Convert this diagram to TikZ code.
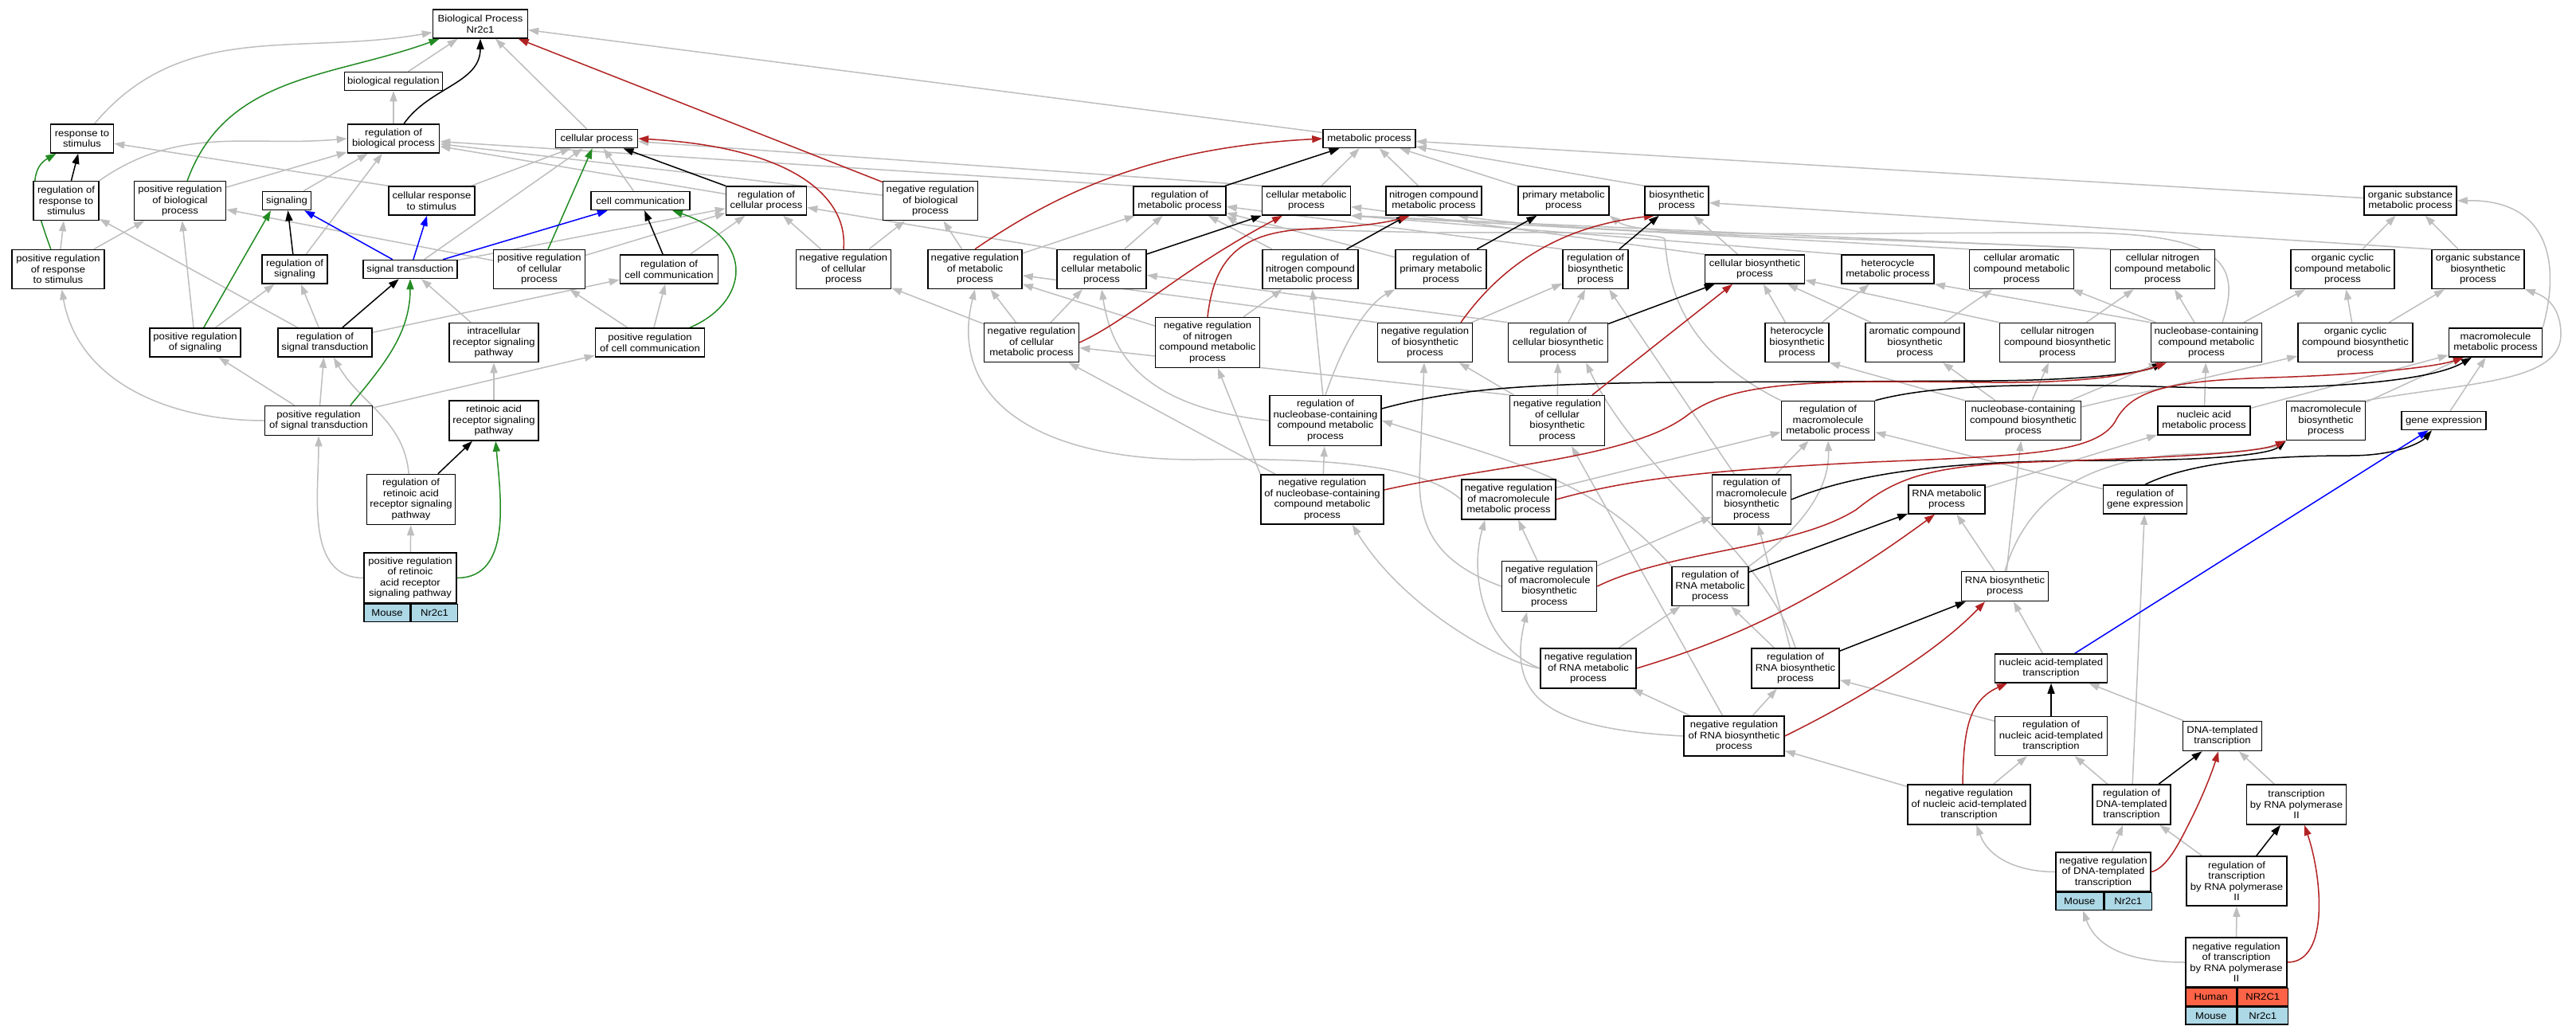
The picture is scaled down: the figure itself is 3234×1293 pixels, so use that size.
\documentclass[tikz,border=0pt]{standalone}
\usepackage{fontspec}
\setmainfont{Liberation Sans}[FakeStretch=1.09]
\usetikzlibrary{arrows.meta}
\definecolor{isagray}{HTML}{BEBEBE}
\definecolor{posgreen}{HTML}{228B22}
\definecolor{negred}{HTML}{B22222}
\definecolor{partblue}{HTML}{0000FF}
\definecolor{mouseblue}{HTML}{ADD8E6}
\definecolor{humanred}{HTML}{FF6347}
\newcommand\gofont{\fontsize{12}{13.5}\selectfont}
\pgfdeclarelayer{bglayer}
\pgfdeclarelayer{edgelayer}
\pgfsetlayers{bglayer,edgelayer,main}
\tikzset{
  gobox/.style={draw=black, line width=1.5pt, fill=white, align=center, inner sep=0pt, font=\gofont},
  spcell/.style={draw=black, line width=1.5pt, inner sep=0pt, font=\gofont, minimum height=22pt, anchor=north west},
  edgebase/.style={line width=1.5pt, -{Triangle[length=13pt,width=9pt]}},
  isaE/.style={edgebase, draw=isagray, fill=none, arrows={-{Triangle[length=13pt,width=9pt,fill=isagray]}}},
  regE/.style={edgebase, draw=black},
  posE/.style={edgebase, draw=posgreen},
  negE/.style={edgebase, draw=negred},
  partE/.style={edgebase, draw=partblue},
}
\newcommand\gonode[6]{\node[gobox,minimum width=#4pt,minimum height=#5pt] (#1) at (#2,-#3) {#6};}
\begin{document}
\begin{tikzpicture}[x=1pt,y=1pt]
\begin{pgfonlayer}{bglayer}
\fill[white] (0,0) rectangle (3234,-1293);
\end{pgfonlayer}
\useasboundingbox (0,0) rectangle (3234,-1293);
% row 1-3
\gonode{bp}{603}{30}{119}{36}{Biological Process\\Nr2c1}
\gonode{bioreg}{494}{102}{123}{23}{biological regulation}
\gonode{respstim}{103}{174}{79}{36}{response to\\stimulus}
\gonode{regbio}{494}{174}{115}{36}{regulation of\\biological process}
\gonode{cellproc}{749}{174}{103}{23}{cellular process}
\gonode{metab}{1719}{174}{116}{23}{metabolic process}
% row 4
\gonode{regresp}{83}{252}{82}{49}{regulation of\\response to\\stimulus}
\gonode{posregbio}{226}{252}{115}{49}{positive regulation\\of biological\\process}
\gonode{signaling}{360}{252}{61}{23}{signaling}
\gonode{cellresp}{542}{252}{108}{36}{cellular response\\to stimulus}
\gonode{cellcomm}{804}{252}{124}{23}{cell communication}
\gonode{regcellproc}{962}{252}{101}{36}{regulation of\\cellular process}
\gonode{negregbio}{1168}{252}{119}{49}{negative regulation\\of biological\\process}
\gonode{regmetab}{1481}{252}{116}{36}{regulation of\\metabolic process}
\gonode{cellmetab}{1640}{252}{111}{36}{cellular metabolic\\process}
\gonode{nitromet}{1800}{252}{120}{36}{nitrogen compound\\metabolic process}
\gonode{primmet}{1963}{252}{114}{36}{primary metabolic\\process}
\gonode{biosyn}{2105}{252}{80}{36}{biosynthetic\\process}
\gonode{orgsubmet}{3026}{252}{116}{36}{organic substance\\metabolic process}
% row 5
\gonode{posregresp}{73}{338}{116}{49}{positive regulation\\of response\\to stimulus}
\gonode{regsig}{370}{338}{82}{36}{regulation of\\signaling}
\gonode{sigtrans}{515}{338}{118}{23}{signal transduction}
\gonode{posregcell}{677}{338}{115}{49}{positive regulation\\of cellular\\process}
\gonode{regcellcomm}{840}{338}{123}{36}{regulation of\\cell communication}
\gonode{negregcell}{1059}{338}{119}{49}{negative regulation\\of cellular\\process}
\gonode{negregmetab}{1224}{338}{118}{49}{negative regulation\\of metabolic\\process}
\gonode{regcellmetab}{1383}{338}{112}{49}{regulation of\\cellular metabolic\\process}
\gonode{regnitro}{1645}{338}{120}{49}{regulation of\\nitrogen compound\\metabolic process}
\gonode{regprim}{1809}{338}{114}{49}{regulation of\\primary metabolic\\process}
\gonode{regbiosyn}{2003}{338}{82}{49}{regulation of\\biosynthetic\\process}
\gonode{cellbiosyn}{2203}{338}{125}{36}{cellular biosynthetic\\process}
\gonode{heteromet}{2370}{338}{116}{36}{heterocycle\\metabolic process}
\gonode{cellaromet}{2538}{338}{131}{49}{cellular aromatic\\compound metabolic\\process}
\gonode{cellnitromet}{2715}{338}{131}{49}{cellular nitrogen\\compound metabolic\\process}
\gonode{orgcycmet}{2941}{338}{130}{49}{organic cyclic\\compound metabolic\\process}
\gonode{orgsubbio}{3111}{338}{116}{49}{organic substance\\biosynthetic\\process}
% row 6
\gonode{posregsig}{245}{430}{114}{36}{positive regulation\\of signaling}
\gonode{regsigtrans}{408}{430}{118}{36}{regulation of\\signal transduction}
\gonode{intracell}{620}{430}{112}{49}{intracellular\\receptor signaling\\pathway}
\gonode{posregcellcomm}{816}{430}{137}{36}{positive regulation\\of cell communication}
\gonode{negregcellmetab}{1295}{430}{119}{49}{negative regulation\\of cellular\\metabolic process}
\gonode{negregnitro}{1516}{430}{131}{63}{negative regulation\\of nitrogen\\compound metabolic\\process}
\gonode{negregbiosyn}{1789}{430}{119}{49}{negative regulation\\of biosynthetic\\process}
\gonode{regcellbiosyn}{1956}{430}{125}{49}{regulation of\\cellular biosynthetic\\process}
\gonode{heterobio}{2256}{430}{80}{49}{heterocycle\\biosynthetic\\process}
\gonode{arobio}{2404}{430}{124}{49}{aromatic compound\\biosynthetic\\process}
\gonode{cellnitrobio}{2583}{430}{145}{49}{cellular nitrogen\\compound biosynthetic\\process}
\gonode{nucmet}{2770}{430}{139}{49}{nucleobase-containing\\compound metabolic\\process}
\gonode{orgcycbio}{2957}{430}{144}{49}{organic cyclic\\compound biosynthetic\\process}
\gonode{macromet}{3133}{430}{117}{36}{macromolecule\\metabolic process}
% row 7
\gonode{posregsigtrans}{400}{528}{135}{37}{positive regulation\\of signal transduction}
\gonode{rapath}{620}{528}{112}{50}{retinoic acid\\receptor signaling\\pathway}
\gonode{regnuc}{1664}{528}{140}{63}{regulation of\\nucleobase-containing\\compound metabolic\\process}
\gonode{negregcellbio}{1955}{528}{119}{63}{negative regulation\\of cellular\\biosynthetic\\process}
\gonode{regmacromet}{2295}{528}{117}{49}{regulation of\\macromolecule\\metabolic process}
\gonode{nucbio}{2540}{528}{145}{49}{nucleobase-containing\\compound biosynthetic\\process}
\gonode{nucacidmet}{2767}{528}{116}{36}{nucleic acid\\metabolic process}
\gonode{macrobio}{2920}{528}{99}{49}{macromolecule\\biosynthetic\\process}
\gonode{geneexp}{3068}{528}{106}{23}{gene expression}
% row 8
\gonode{regra}{516}{627}{111}{63}{regulation of\\retinoic acid\\receptor signaling\\pathway}
\gonode{negregnuc}{1660}{627}{154}{62}{negative regulation\\of nucleobase-containing\\compound metabolic\\process}
\gonode{negregmacromet}{1894}{627}{118}{50}{negative regulation\\of macromolecule\\metabolic process}
\gonode{regmacrobio}{2199}{627}{99}{62}{regulation of\\macromolecule\\biosynthetic\\process}
\gonode{rnamet}{2444}{627}{96}{36}{RNA metabolic\\process}
\gonode{reggeneexp}{2693}{627}{105}{36}{regulation of\\gene expression}
% row 9
\gonode{posregra}{515}{725.5}{116}{63}{positive regulation\\of retinoic\\acid receptor\\signaling pathway}
\node[spcell, fill=mouseblue, minimum width=58pt] (posregraM) at (posregra.south west) {Mouse};
\node[spcell, fill=mouseblue, minimum width=58pt] (posregraN) at (posregraM.north east) {Nr2c1};
\gonode{negregmacrobio}{1945}{736}{119}{63}{negative regulation\\of macromolecule\\biosynthetic\\process}
\gonode{regrnamet}{2147}{736}{96}{49}{regulation of\\RNA metabolic\\process}
\gonode{rnabio}{2517}{736}{109}{37}{RNA biosynthetic\\process}
% row 10-11
\gonode{negregrnamet}{1994}{839}{120}{50}{negative regulation\\of RNA metabolic\\process}
\gonode{regrnabio}{2254}{839}{110}{50}{regulation of\\RNA biosynthetic\\process}
\gonode{nattrans}{2575}{839}{141}{36}{nucleic acid-templated\\transcription}
\gonode{negregrnabio}{2177}{924}{126}{50}{negative regulation\\of RNA biosynthetic\\process}
\gonode{regnattrans}{2575}{924}{141}{49}{regulation of\\nucleic acid-templated\\transcription}
\gonode{dnatrans}{2790}{924}{99}{37}{DNA-templated\\transcription}
% row 12-14
\gonode{negregnattrans}{2472}{1010}{154}{50}{negative regulation\\of nucleic acid-templated\\transcription}
\gonode{regdnatrans}{2676}{1010}{98}{50}{regulation of\\DNA-templated\\transcription}
\gonode{pol2}{2883}{1010}{125}{50}{transcription\\by RNA polymerase\\II}
\gonode{negregdna}{2640.5}{1094.5}{119}{49}{negative regulation\\of DNA-templated\\transcription}
\node[spcell, fill=mouseblue, minimum width=59.5pt] (negregdnaM) at (negregdna.south west) {Mouse};
\node[spcell, fill=mouseblue, minimum width=59.5pt] (negregdnaN) at (negregdnaM.north east) {Nr2c1};
\gonode{regpol2}{2808}{1106}{126}{62}{regulation of\\transcription\\by RNA polymerase\\II}
\gonode{negregpol2}{2807.5}{1208}{127}{62}{negative regulation\\of transcription\\by RNA polymerase\\II}
\node[spcell, fill=humanred, minimum width=63.5pt] (negregpol2H) at (negregpol2.south west) {Human};
\node[spcell, fill=humanred, minimum width=63.5pt] (negregpol2HN) at (negregpol2H.north east) {NR2C1};
\node[spcell, fill=mouseblue, minimum width=63.5pt] (negregpol2M) at (negregpol2H.south west) {Mouse};
\node[spcell, fill=mouseblue, minimum width=63.5pt] (negregpol2MN) at (negregpol2M.north east) {Nr2c1};

\begin{pgfonlayer}{edgelayer}
% ---------- is_a (gray)
\draw[isaE] (bioreg) -- (bp);
\draw[isaE] (regbio) -- (bioreg);
\draw[isaE] (respstim) to[out=50,in=190] (bp);
\draw[isaE] (cellproc) -- (bp);
\draw[isaE] (metab) -- (bp);
\draw[isaE] (posregbio) -- (regbio);
\draw[isaE] (negregbio) -- (regbio);
\draw[isaE] (regresp.north east) to[out=35,in=185] (regbio.west);
\draw[isaE] (posregresp) -- (regresp);
\draw[isaE] (posregresp) -- (posregbio);
\draw[isaE] (cellresp.north west) -- (respstim);
\draw[isaE] (cellresp) -- (cellproc);
\draw[isaE] (signaling) -- (regbio);
\draw[isaE] (regsig) -- (regbio);
\draw[isaE] (sigtrans) -- (cellproc);
\draw[isaE] (sigtrans) -- (regcellproc);
\draw[isaE] (posregcell) -- (posregbio);
\draw[isaE] (posregcell) -- (regcellproc);
\draw[isaE] (cellcomm) -- (cellproc);
\draw[isaE] (regcellcomm) -- (regcellproc);
\draw[isaE] (regcellproc) -- (regbio);
\draw[isaE] (negregcell) -- (regcellproc);
\draw[isaE] (negregcell) -- (negregbio);
\draw[isaE] (posregsig) -- (posregbio);
\draw[isaE] (posregsig) -- (regsig);
\draw[isaE] (regsigtrans) -- (regsig);
\draw[isaE] (regsigtrans) -- (regresp);
\draw[isaE] (regsigtrans) -- (regcellcomm);
\draw[isaE] (intracell) -- (sigtrans);
\draw[isaE] (posregcellcomm) -- (regcellcomm);
\draw[isaE] (posregcellcomm) -- (posregcell);
\draw[isaE] (posregsigtrans) -- (posregsig);
\draw[isaE] (posregsigtrans) -- (regsigtrans);
\draw[isaE] (posregsigtrans.west) to[out=180,in=-80] (posregresp);
\draw[isaE] (posregsigtrans) -- (posregcellcomm);
\draw[isaE] (rapath) -- (intracell);
\draw[isaE] (regra) to[out=95,in=-60] (regsigtrans);
\draw[isaE] (posregra) -- (regra);
\draw[isaE] (posregra.west) to[out=180,in=-90] (posregsigtrans);
\draw[isaE] (regmetab.north west) -- (regbio);
\draw[isaE] (negregmetab) -- (regmetab);
\draw[isaE] (negregmetab) -- (negregbio);
\draw[isaE] (cellmetab) -- (metab);
\draw[isaE] (cellmetab.north west) -- (cellproc);
\draw[isaE] (regcellmetab) -- (regmetab);
\draw[isaE] (regcellmetab.north west) -- (regcellproc);
\draw[isaE] (negregcellmetab) -- (negregmetab);
\draw[isaE] (negregcellmetab) -- (regcellmetab);
\draw[isaE] (negregcellmetab) -- (negregcell);
\draw[isaE] (nitromet) -- (metab);
\draw[isaE] (primmet) -- (metab);
\draw[isaE] (biosyn.north west) -- (metab);
\draw[isaE] (orgsubmet) -- (metab);
\draw[isaE] (regnitro) -- (regmetab);
\draw[isaE] (negregnitro) -- (negregmetab);
\draw[isaE] (negregnitro) -- (regnitro);
\draw[isaE] (regprim) -- (regmetab);
\draw[isaE] (regbiosyn.north west) -- (regmetab);
\draw[isaE] (negregbiosyn) -- (regbiosyn);
\draw[isaE] (negregbiosyn.north west) -- (negregmetab);
\draw[isaE] (cellbiosyn) -- (biosyn);
\draw[isaE] (cellbiosyn.north west) -- (cellmetab);
\draw[isaE] (regcellbiosyn) -- (regbiosyn);
\draw[isaE] (regcellbiosyn.north west) -- (regcellmetab);
\draw[isaE] (negregcellbio) -- (negregbiosyn);
\draw[isaE] (negregcellbio) -- (regcellbiosyn);
\draw[isaE] (negregcellbio.north west) -- (negregcellmetab);
\draw[isaE] (heteromet.north west) -- (cellmetab.south east);
\draw[isaE] (heterobio) -- (heteromet);
\draw[isaE] (heterobio) -- (cellbiosyn);
\draw[isaE] (arobio) -- (cellbiosyn);
\draw[isaE] (arobio) -- (cellaromet);
\draw[isaE] (cellaromet.north west) -- (cellmetab.south east);
\draw[isaE] (cellnitromet.north west) -- (cellmetab.south east);
\draw[isaE] (cellnitromet.north west) .. controls (2400,-300) and (2000,-295) .. ([xshift=30pt]nitromet.south);
\draw[isaE] (orgcycmet) -- (orgsubmet);
\draw[isaE] (orgsubbio) -- (orgsubmet);
\draw[isaE] (orgsubbio.north west) -- (biosyn);
\draw[isaE] (cellnitrobio) -- (cellnitromet);
\draw[isaE] (cellnitrobio.north west) -- (cellbiosyn);
\draw[isaE] (nucmet.north west) -- (heteromet.south east);
\draw[isaE] (nucmet) -- (cellaromet);
\draw[isaE] (nucmet) -- (cellnitromet);
\draw[isaE] (nucmet) -- (orgcycmet);
\draw[isaE] ([xshift=20pt]nucmet.north) .. controls (2815,-330) and (2790,-292) .. (2600,-292) .. controls (2300,-292) and (2060,-300) .. (primmet.south east);
\draw[isaE] (orgcycbio) -- (orgcycmet);
\draw[isaE] (orgcycbio) -- (orgsubbio);
\draw[isaE] (macromet.north east) .. controls (3215,-330) and (3200,-250) .. (orgsubmet.east);
\draw[isaE] (regnuc.west) .. controls (1430,-510) and (1395,-440) .. (regcellmetab.south);
\draw[isaE] (regnuc) -- (regnitro);
\draw[isaE] (regnuc.north) .. controls (1690,-420) and (1720,-380) .. (regprim.south west);
\draw[isaE] (negregnuc) -- (regnuc);
\draw[isaE] (negregnuc) -- (negregcellmetab);
\draw[isaE] (negregnuc.north west) -- (negregnitro);
\draw[isaE] (regmacromet.north west) .. controls (2110,-440) and (2095,-360) .. (2090,-300) .. controls (2080,-290) and (1900,-292) .. (1800,-292) .. controls (1600,-288) and (1560,-285) .. (regmetab.south east);
\draw[isaE] (regmacrobio) -- (regmacromet);
\draw[isaE] (regmacrobio) -- (regbiosyn);
\draw[isaE] (nucbio) -- (nucmet);
\draw[isaE] (nucbio.north west) -- (heterobio.south east);
\draw[isaE] (nucbio) -- (arobio);
\draw[isaE] (nucbio) -- (cellnitrobio);
\draw[isaE] (nucbio) -- (orgcycbio);
\draw[isaE] (nucacidmet) -- (nucmet);
\draw[isaE] (nucacidmet) -- (macromet);
\draw[isaE] (macrobio) -- (macromet);
\draw[isaE] (macrobio.north east) .. controls (3100,-480) and (3215,-480) .. (3215,-420) .. controls (3215,-380) and (3190,-370) .. (orgsubbio.south east);
\draw[isaE] (geneexp) -- (macromet);
\draw[isaE] (negregmacromet) -- (regmacromet);
\draw[isaE] (negregmacromet.west) .. controls (1780,-580) and (1650,-575) .. (1500,-577) .. controls (1300,-577) and (1190,-500) .. (negregmetab.south);
\draw[isaE] (rnamet) -- (nucacidmet);
\draw[isaE] (reggeneexp) -- (regmacromet);
\draw[isaE] (negregmacrobio) -- (negregmacromet);
\draw[isaE] (negregmacrobio) -- (regmacrobio);
\draw[isaE] (negregmacrobio.west) .. controls (1800,-705) and (1782,-660) .. (1782,-600) -- (negregbiosyn);
\draw[isaE] (regrnamet.north west) .. controls (2000,-600) and (1900,-580) .. (regnuc.east);
\draw[isaE] (regrnamet.north east) .. controls (2280,-650) and (2297,-600) .. (regmacromet.south);
\draw[isaE] (rnabio) -- (rnamet);
\draw[isaE] (rnabio) -- (nucbio);
\draw[isaE] (rnabio.north) .. controls (2540,-640) and (2600,-575) .. (2750,-570) .. controls (2820,-568) and (2860,-560) .. (macrobio.south west);
\draw[isaE] (negregrnamet) -- (regrnamet);
\draw[isaE] (negregrnamet.west) .. controls (1860,-810) and (1845,-720) .. ([xshift=30pt]negregmacromet.south west);
\draw[isaE] (negregrnamet.west) .. controls (1880,-830) and (1760,-760) .. ([xshift=-40pt]negregnuc.south east);
\draw[isaE] (regrnabio) -- (regrnamet);
\draw[isaE] (regrnabio) -- (regmacrobio);
\draw[isaE] (regrnabio.north) .. controls (2215,-690) and (2060,-600) .. ([xshift=35pt]regcellbiosyn.south);
\draw[isaE] (nattrans) -- (rnabio);
\draw[isaE] (negregrnabio) -- (negregrnamet);
\draw[isaE] (negregrnabio) -- (regrnabio);
\draw[isaE] (negregrnabio) -- (negregcellbio);
\draw[isaE] (negregrnabio.west) .. controls (1950,-915) and (1890,-880) .. ([xshift=-28pt]negregmacrobio.south);
\draw[isaE] (regnattrans) -- (regrnabio);
\draw[isaE] (dnatrans) -- (nattrans);
\draw[isaE] (negregnattrans) -- (negregrnabio);
\draw[isaE] (negregnattrans) -- (regnattrans);
\draw[isaE] (regdnatrans) -- (regnattrans);
\draw[isaE] (regdnatrans) -- (reggeneexp);
\draw[isaE] (pol2) -- (dnatrans);
\draw[isaE] (negregdna.west) to[out=180,in=-70] (negregnattrans);
\draw[isaE] (negregdna) -- (regdnatrans);
\draw[isaE] (regpol2) -- (regdnatrans);
\draw[isaE] (negregpol2.west) to[out=180,in=-70] (negregdnaM);
\draw[isaE] (negregpol2) -- (regpol2);
% ---------- regulates (black)
\draw[regE] (regbio) to[out=55,in=-90] (bp);
\draw[regE] (regresp) -- (respstim);
\draw[regE] (regsig) -- (signaling);
\draw[regE] (regsigtrans) -- (sigtrans);
\draw[regE] (regcellcomm) -- (cellcomm);
\draw[regE] (regcellproc) -- (cellproc);
\draw[regE] (regra) -- (rapath);
\draw[regE] (regmetab) -- (metab);
\draw[regE] (regcellmetab) -- (cellmetab);
\draw[regE] (regnitro) -- (nitromet);
\draw[regE] (regprim) -- (primmet);
\draw[regE] (regbiosyn) -- (biosyn);
\draw[regE] (regcellbiosyn) -- (cellbiosyn);
\draw[regE] ([yshift=15pt]regnuc.east) .. controls (1820,-490) and (1900,-482) .. (2100,-480) -- (2500,-478) .. controls (2620,-477) and (2690,-468) .. ([xshift=-55pt]nucmet.south);
\draw[regE] (regmacromet.north east) .. controls (2430,-482) and (2550,-482) .. (2700,-485) .. controls (2900,-492) and (3050,-480) .. ([xshift=-30pt]macromet.south);
\draw[regE] (regmacrobio.east) .. controls (2350,-585) and (2500,-578) .. (2650,-578) .. controls (2780,-578) and (2850,-570) .. (macrobio.south west);
\draw[regE] (reggeneexp.north) .. controls (2750,-580) and (2850,-572) .. (2950,-572) .. controls (3010,-572) and (3040,-555) .. ([xshift=-15pt]geneexp.south);
\draw[regE] (regrnamet) -- (rnamet);
\draw[regE] (regrnabio) -- (rnabio);
\draw[regE] (regnattrans) -- (nattrans);
\draw[regE] (regdnatrans) -- (dnatrans);
\draw[regE] (regpol2) -- (pol2);
% ---------- negatively regulates (red)
\draw[negE] (negregbio) -- (bp);
\draw[negE] (negregcell.north) .. controls (1065,-250) and (1000,-185) .. (cellproc.east);
\draw[negE] (negregmetab.north) .. controls (1330,-240) and (1450,-185) .. (metab.west);
\draw[negE] (negregcellmetab.east) .. controls (1420,-400) and (1480,-340) .. ([xshift=-30pt]cellmetab.south);
\draw[negE] (negregnitro.north) .. controls (1525,-320) and (1560,-290) .. (1650,-287) .. controls (1700,-285) and (1740,-280) .. ([xshift=-30pt]nitromet.south);
\draw[negE] ([xshift=45pt]negregbiosyn.north) .. controls (1880,-340) and (1950,-285) .. ([xshift=-28pt]biosyn.south);
\draw[negE] ([xshift=44pt]negregcellbio.north) -- ([xshift=-28pt]cellbiosyn.south);
\draw[negE] ([yshift=12pt]negregnuc.east) .. controls (1880,-583) and (2050,-575) .. (2120,-520) .. controls (2180,-475) and (2300,-478) .. (2500,-480) .. controls (2620,-481) and (2680,-470) .. ([xshift=-50pt]nucmet.south);
\draw[negE] (negregmacromet.east) .. controls (2050,-600) and (2150,-590) .. (2350,-580) .. controls (2550,-572) and (2630,-568) .. (2655,-530) .. controls (2675,-490) and (2720,-478) .. (2850,-474) .. controls (2980,-470) and (3060,-460) .. ([xshift=-40pt]macromet.south);
\draw[negE] (negregmacrobio.east) .. controls (2100,-690) and (2250,-690) .. (2330,-640) .. controls (2380,-600) and (2420,-585) .. (2550,-580) .. controls (2700,-575) and (2830,-570) .. (macrobio.south west);
\draw[negE] (negregrnamet.east) .. controls (2150,-810) and (2260,-770) .. ([xshift=-15pt]rnamet.south);
\draw[negE] (negregrnabio.east) .. controls (2330,-880) and (2430,-820) .. ([xshift=-25pt]rnabio.south);
\draw[negE] ([xshift=-8pt]negregnattrans.north) .. controls (2465,-920) and (2470,-880) .. ([xshift=-55pt]nattrans.south);
\draw[negE] (negregdna.east) .. controls (2720,-1090) and (2735,-1060) .. (2750,-1030) .. controls (2770,-990) and (2780,-960) .. ([xshift=-5pt]dnatrans.south);
\draw[negE] (negregpol2.east) .. controls (2925,-1208) and (2915,-1100) .. ([xshift=10pt]pol2.south);
% ---------- positively regulates (green)
\draw[posE] (posregbio) to[out=70,in=200] (bp);
\draw[posE] (posregresp) to[out=110,in=210] (respstim);
\draw[posE] (posregsig) -- ([xshift=-20pt]signaling.south);
\draw[posE] (posregcell) -- (cellproc);
\draw[posE] ([xshift=50pt]posregcellcomm.north) .. controls (940,-380) and (950,-300) .. ([xshift=40pt]cellcomm.south);
\draw[posE] ([xshift=40pt]posregsigtrans.north) .. controls (480,-460) and (515,-420) .. (sigtrans.south);
\draw[posE] (posregra.east) to[out=0,in=-85] (rapath);
% ---------- part of (blue)
\draw[partE] (sigtrans) -- (signaling);
\draw[partE] (sigtrans) -- (cellresp);
\draw[partE] (sigtrans) -- (cellcomm);
\draw[partE] (nattrans) -- (geneexp);
\end{pgfonlayer}
\end{tikzpicture}
\end{document}
